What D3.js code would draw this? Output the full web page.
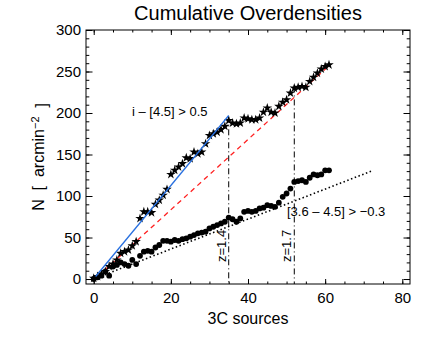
<!DOCTYPE html>
<html><head><meta charset="utf-8">
<script src="https://cdn.jsdelivr.net/npm/d3@7"></script>
<style>
body{margin:0;background:#fff;}
text{font-family:"Liberation Sans",Arial,Helvetica,sans-serif;fill:#000;}
</style></head>
<body><svg id="c" width="436" height="339"></svg>
<script>
// Data
const sourceIndex = d3.range(0, 62);
const starValues = [1,3,6,9,15,18,23,31,33,35,40,45,73,81,81,80,90,95,101,108,
  126,131,135,139,146,145,153,151,153,163,173,175,177,180,184,191,188,187,188,194,
  193,192,192,194,201,206,201,200,208,213,216,224,230,231,232,231,238,243,248,253,256,258];
const dotValues = [0,2,4,9,4,15,17,20,18,16,23,18,28,33,34,33,38,41,46,46,
  45,47,46,48,49,51,53,55,56,57,61,63,65,67,69,74,72,69,73,81,
  82,81,82,85,86,89,88,87,92,99,103,109,117,118,119,117,122,126,125,126,131,131];
const blueFit = [[0.5,3],[35,197]];
const redFit = [[1,3],[61,257]];
const dottedFit = [[0,0],[72,130]];
const redshiftMarks = [{x:35, top:196, label:"z=1.4"},{x:52, top:232, label:"z=1.7"}];
const xMajor = [0,20,40,60,80];
const yMajor = [0,50,100,150,200,250,300];
const xMinor = d3.range(0, 81, 5);
const yMinor = d3.range(0, 301, 10);

const svg = d3.select("#c");
const L=86, R=410, T=30, B=284;
const x = d3.scaleLinear().domain([-2,82]).range([L,R]);
const y = d3.scaleLinear().domain([-6,300]).range([B,T]);

// title
svg.append("text").attr("x",248).attr("y",20).attr("text-anchor","middle")
  .style("font-size","20px").text("Cumulative Overdensities");

// axes
function styleAxis(g){ g.select(".domain").remove(); g.selectAll("line").attr("stroke","#000"); g.selectAll("text").style("font-size","15px").attr("fill","#000"); }
svg.append("g").attr("transform",`translate(0,${B})`)
  .call(d3.axisBottom(x).tickValues(xMinor).tickSize(-2.5).tickFormat("")).call(styleAxis);
svg.append("g").attr("transform",`translate(0,${B})`)
  .call(d3.axisBottom(x).tickValues(xMajor).tickSize(-5).tickPadding(8).tickFormat(d3.format("d"))).call(styleAxis);
svg.append("g").attr("transform",`translate(0,${T})`)
  .call(d3.axisTop(x).tickValues(xMinor).tickSize(-2.5).tickFormat("")).call(styleAxis);
svg.append("g").attr("transform",`translate(0,${T})`)
  .call(d3.axisTop(x).tickValues(xMajor).tickSize(-5).tickFormat("")).call(styleAxis);
svg.append("g").attr("transform",`translate(${L},0)`)
  .call(d3.axisLeft(y).tickValues(yMinor).tickSize(-3.3).tickFormat("")).call(styleAxis);
svg.append("g").attr("transform",`translate(${L},0)`)
  .call(d3.axisLeft(y).tickValues(yMajor).tickSize(-6.5).tickPadding(5).tickFormat(d3.format("d"))).call(styleAxis);
svg.append("g").attr("transform",`translate(${R},0)`)
  .call(d3.axisRight(y).tickValues(yMinor).tickSize(-3.3).tickFormat("")).call(styleAxis);
svg.append("g").attr("transform",`translate(${R},0)`)
  .call(d3.axisRight(y).tickValues(yMajor).tickSize(-6.5).tickFormat("")).call(styleAxis);
svg.append("rect").attr("x",L).attr("y",T).attr("width",R-L).attr("height",B-T)
  .attr("fill","none").attr("stroke","#000").attr("stroke-width",1);

// axis titles
svg.append("text").attr("x",(L+R)/2).attr("y",324).attr("text-anchor","middle")
  .style("font-size","16px").text("3C sources");
const yl = svg.append("text").attr("transform",`translate(44,${(T+B)/2}) rotate(-90)`)
  .attr("text-anchor","middle").style("font-size","16px");
yl.append("tspan").text("N\u00a0\u00a0[\u00a0\u00a0arcmin");
yl.append("tspan").attr("dy","-0.5em").style("font-size","11px").text("\u22122");
yl.append("tspan").attr("dy","0.5em").text("\u00a0\u00a0]");

const line = d3.line().x(d=>x(d[0])).y(d=>y(d[1]));

// vertical redshift markers
redshiftMarks.forEach(m=>{
  svg.append("line").attr("x1",x(m.x)).attr("x2",x(m.x)).attr("y1",y(m.top)).attr("y2",B)
    .attr("stroke","#000").attr("stroke-width",1).attr("stroke-dasharray","6,3,1,3");
  svg.append("text").attr("transform",`translate(${x(m.x)-3},262) rotate(-90)`)
    .style("font-size","13px").text(m.label);
});

// fits
svg.append("path").datum(dottedFit).attr("d",line).attr("fill","none")
  .attr("stroke","#000").attr("stroke-width",1.6).attr("stroke-dasharray","1.5,2.5");
svg.append("path").datum(redFit).attr("d",line).attr("fill","none")
  .attr("stroke","#ff2020").attr("stroke-width",1.3).attr("stroke-dasharray","5,4");

// dots
svg.append("g").selectAll("circle").data(sourceIndex).join("circle")
  .attr("cx",i=>x(i)).attr("cy",i=>y(dotValues[i])).attr("r",2.9).attr("fill","#000");
// stars
const star = d3.symbol().type(d3.symbolStar).size(28);
svg.append("g").selectAll("path").data(sourceIndex).join("path")
  .attr("d",star).attr("transform",i=>`translate(${x(i)},${y(starValues[i])})`).attr("fill","#000");

svg.append("path").datum(blueFit).attr("d",line).attr("fill","none")
  .attr("stroke","#2870e0").attr("stroke-width",1.3);

// annotations
svg.append("text").attr("x",132).attr("y",116).style("font-size","13px").text("i \u2013 [4.5] > 0.5");
svg.append("text").attr("x",287).attr("y",216).style("font-size","13px").text("[3.6 \u2013 4.5] > \u22120.3");
</script></body></html>
